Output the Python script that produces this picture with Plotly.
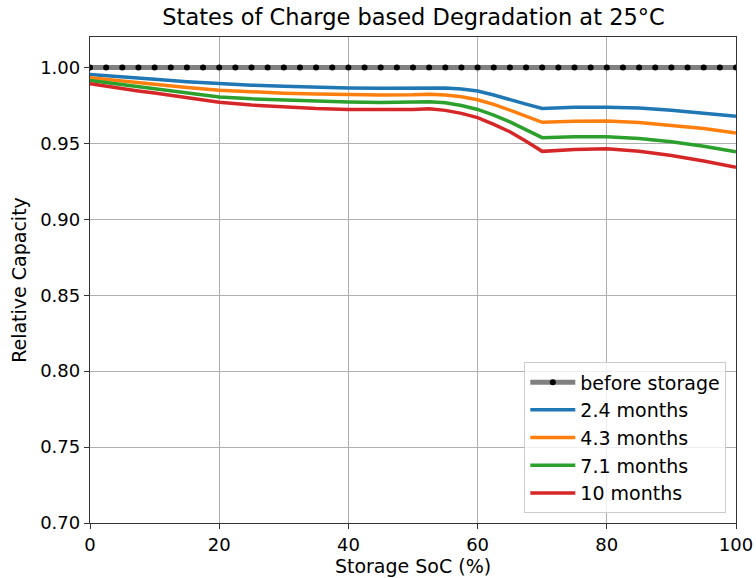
import plotly.graph_objects as go

soc = [0, 2.5, 5, 7.5, 10, 15, 20, 25, 30, 35, 40, 45, 50, 52.5, 55, 57.5, 60, 62.5, 65, 67.5, 70, 75, 80, 85, 90, 95, 100]

before_x = [i * 2.5 for i in range(41)]
before_y = [1.0] * 41

cap_2_4 = [0.9953, 0.9944, 0.9936, 0.9928, 0.9921, 0.9906, 0.9893, 0.9883, 0.9875, 0.9869, 0.9865, 0.9863, 0.9864, 0.9867, 0.9864,
           0.9857, 0.9844, 0.9818, 0.9785, 0.9758, 0.9730, 0.9737, 0.9738, 0.9733, 0.9718, 0.9700, 0.9678]
cap_4_3 = [0.9932, 0.9921, 0.9910, 0.9900, 0.9890, 0.9868, 0.9850, 0.9838, 0.9830, 0.9824, 0.9820, 0.9818, 0.9819, 0.9823, 0.9818,
           0.9806, 0.9787, 0.9756, 0.9718, 0.9678, 0.9638, 0.9645, 0.9647, 0.9637, 0.9618, 0.9597, 0.9568]
cap_7_1 = [0.9914, 0.9900, 0.9886, 0.9873, 0.9860, 0.9830, 0.9805, 0.9793, 0.9785, 0.9777, 0.9772, 0.9769, 0.9769, 0.9773, 0.9767,
           0.9749, 0.9723, 0.9686, 0.9641, 0.9590, 0.9537, 0.9543, 0.9544, 0.9532, 0.9510, 0.9481, 0.9445]
cap_10 = [0.9893, 0.9876, 0.9860, 0.9845, 0.9831, 0.9800, 0.9770, 0.9752, 0.9739, 0.9729, 0.9723, 0.9721, 0.9722, 0.9728, 0.9717,
          0.9697, 0.9669, 0.9625, 0.9576, 0.9513, 0.9447, 0.9460, 0.9464, 0.9448, 0.9420, 0.9384, 0.9342]

series_names = ["2.4 months", "4.3 months", "7.1 months", "10 months"]
series_vals = [cap_2_4, cap_4_3, cap_7_1, cap_10]
series_colors = ["#1f77b4", "#ff7f0e", "#2ca02c", "#d62728"]

y_ticks = [0.70, 0.75, 0.80, 0.85, 0.90, 0.95, 1.00]
x_ticks = [0, 20, 40, 60, 80, 100]

fig = go.Figure()
fig.add_trace(go.Scatter(
    x=before_x, y=before_y, mode="lines+markers", name="before storage",
    line=dict(color="#808080", width=5),
    marker=dict(color="black", size=6),
))
for name, vals, col in zip(series_names, series_vals, series_colors):
    fig.add_trace(go.Scatter(x=soc, y=vals, mode="lines", name=name,
                             line=dict(color=col, width=3.5)))

font = "DejaVu Sans"
fig.update_layout(
    width=756, height=578,
    margin=dict(l=90, r=20, t=37, b=55, autoexpand=False),
    paper_bgcolor="white", plot_bgcolor="white",
    font=dict(family=font, size=18, color="black"),
    title=dict(text="States of Charge based Degradation at 25°C", x=0.547, xanchor="center",
               y=0.97, yanchor="middle", font=dict(size=22.5)),
    legend=dict(x=0.985, xanchor="right", y=0.02, yanchor="bottom",
                bgcolor="rgba(255,255,255,0.8)", bordercolor="#cccccc", borderwidth=1,
                font=dict(size=19), tracegroupgap=0, itemwidth=45),
    showlegend=True,
)
fig.update_xaxes(
    range=[0, 100], tickvals=x_ticks, title=dict(text="Storage SoC (%)", standoff=4, font=dict(size=19)),
    showgrid=True, gridcolor="#b0b0b0", gridwidth=1,
    showline=True, linecolor="#333333", linewidth=1.3, mirror=True,
    ticks="outside", ticklen=5, tickcolor="#333333", zeroline=False,
)
fig.update_yaxes(
    range=[0.70, 1.02], tickvals=y_ticks, tickformat=".2f",
    title=dict(text="Relative Capacity", standoff=8, font=dict(size=19)),
    showgrid=True, gridcolor="#b0b0b0", gridwidth=1,
    showline=True, linecolor="#333333", linewidth=1.3, mirror=True,
    ticks="outside", ticklen=5, tickcolor="#333333", zeroline=False,
)
fig.write_html("out.html")
